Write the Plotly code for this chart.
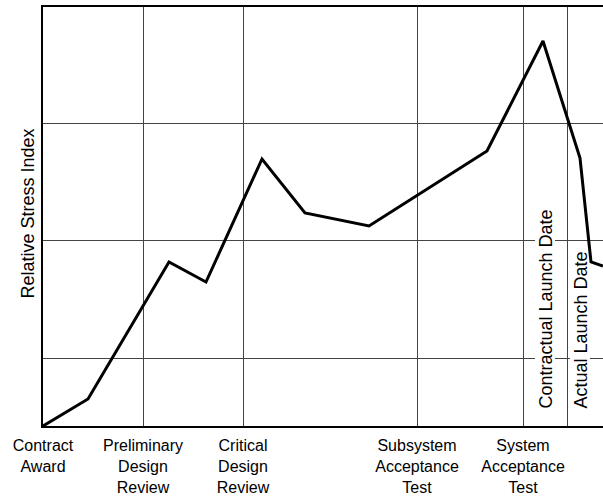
import plotly.graph_objects as go

# Stress curve (x: schedule units, y: relative stress units)
x_vals = [0, 45, 126, 163, 219, 262, 326, 444, 500, 537, 548, 560]
y_vals = [0, 27, 164, 144, 267, 213, 200, 275, 385, 268, 164, 160]

milestone_pos = [0, 100, 200, 374, 480, 524]
milestone_text = ["Contract<br>Award", "Preliminary<br>Design<br>Review",
                  "Critical<br>Design<br>Review", "Subsystem<br>Acceptance<br>Test",
                  "System<br>Acceptance<br>Test", ""]
y_grid = [68, 186, 303]
launch_labels = ["Contractual Launch Date", "Actual Launch Date"]
launch_pos = [502, 537]
launch_len = [206, 166]

FONT = "Liberation Sans, Arial, sans-serif"

fig = go.Figure()
fig.add_trace(go.Scatter(x=x_vals, y=y_vals, mode="lines",
                         line=dict(color="black", width=3), hoverinfo="skip"))

for lbl, xp, ln in zip(launch_labels, launch_pos, launch_len):
    fig.add_shape(type="rect", layer="between", xref="x", yref="y",
                  xsizemode="pixel", xanchor=xp, x0=-10, x1=10,
                  y0=14, y1=14 + ln, fillcolor="white", line=dict(width=0))
    fig.add_annotation(x=xp, y=16, xref="x", yref="y", text=lbl, textangle=-90,
                       showarrow=False, xanchor="center", yanchor="bottom",
                       borderpad=0,
                       font=dict(family=FONT, size=18, color="black"))

fig.add_annotation(x=0, y=0.5, xref="paper", yref="paper", text="Relative Stress Index",
                   textangle=-90, showarrow=False, xanchor="center", yanchor="middle",
                   xshift=-16, yshift=3, font=dict(family=FONT, size=18, color="black"))

fig.update_layout(
    width=603, height=500,
    margin=dict(l=43, r=0, t=7, b=74),
    plot_bgcolor="white", paper_bgcolor="white",
    showlegend=False,
    font=dict(family=FONT, size=16, color="black"),
    xaxis=dict(range=[0, 560], tickvals=milestone_pos, ticktext=milestone_text,
               showgrid=True, gridcolor="#444", gridwidth=1,
               showline=True, linecolor="black", linewidth=2, mirror=True,
               ticks="", zeroline=False, ticklabelstandoff=4,
               tickfont=dict(family=FONT, size=16, color="black")),
    yaxis=dict(range=[0, 419], tickvals=y_grid, showticklabels=False,
               showgrid=True, gridcolor="#444", gridwidth=1,
               showline=True, linecolor="black", linewidth=2,
               ticks="", zeroline=False),
)

fig.write_html("out.html", config={"displayModeBar": False},
               post_script="document.body.style.margin='0';document.body.style.overflow='hidden';")
